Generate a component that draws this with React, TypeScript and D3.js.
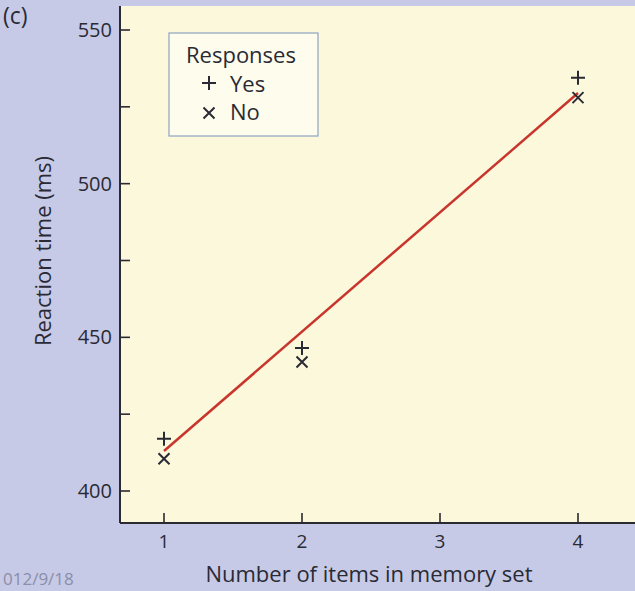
import * as d3 from "d3";
import type { ReactElement } from "react";

const W = 635;
const H = 591;

// memory set sizes and reaction times (ms)
const setSizes = [1, 2, 4];
const yesRT = [417, 446.5, 534.5];
const noRT = [410.5, 442, 528];
const fitLine = [
  { n: 1, rt: 413 },
  { n: 4, rt: 529.5 },
];
const xTicks = [1, 2, 3, 4];
const yMajor = [400, 450, 500, 550];
const yMinor = [425, 475, 525];
const legendItems = [
  { sym: "+", label: "Yes" },
  { sym: "x", label: "No" },
];

const FONT = "'Open Sans', 'Noto Sans', sans-serif";
const AXIS = "#2a2a30";
const INK = "#2a2a35";

const plusPath = (cx: number, cy: number, r: number): string =>
  `M${cx - r},${cy}H${cx + r}M${cx},${cy - r}V${cy + r}`;

const xPath = (cx: number, cy: number, r: number): string =>
  `M${cx - r},${cy - r}L${cx + r},${cy + r}M${cx + r},${cy - r}L${cx - r},${cy + r}`;

export default function App(): ReactElement {
  const left = 120;
  const top = 6;
  const bottom = 523;

  const x = d3.scaleLinear().domain([1, 4]).range([164, 578]);
  const y = d3.scaleLinear().domain([400, 550]).range([491, 30]);

  const line = d3
    .line<{ n: number; rt: number }>()
    .x((d) => x(d.n))
    .y((d) => y(d.rt));

  return (
    <svg
      width={W}
      height={H}
      viewBox={`0 0 ${W} ${H}`}
      style={{ position: "absolute", left: 0, top: 0, fontFamily: FONT }}
    >
      <rect x={0} y={0} width={W} height={H} fill="#c6cae6" />
      <rect x={left} y={top} width={W - left} height={bottom - top} fill="#fcf8dc" />

      <text x={3} y={24} fontSize={23} fill={INK}>(c)</text>
      <text x={3} y={585} fontSize={17} fill="#8b8ea8">012/9/18</text>

      {/* y axis */}
      <line x1={left} x2={left} y1={top} y2={bottom} stroke={AXIS} strokeWidth={2} />
      {yMajor.map((v) => (
        <g key={`ym-${v}`}>
          <line x1={left} x2={left + 10} y1={y(v)} y2={y(v)} stroke={AXIS} strokeWidth={1.6} />
          <text x={left - 8} y={y(v)} dy="0.35em" textAnchor="end" fontSize={20} fill={INK}>
            {v}
          </text>
        </g>
      ))}
      {yMinor.map((v) => (
        <line key={`yn-${v}`} x1={left} x2={left + 10} y1={y(v)} y2={y(v)} stroke={AXIS} strokeWidth={1.6} />
      ))}

      {/* x axis */}
      <line x1={left} x2={W} y1={bottom} y2={bottom} stroke={AXIS} strokeWidth={2} />
      {xTicks.map((v) => (
        <g key={`xt-${v}`}>
          <line x1={x(v)} x2={x(v)} y1={bottom} y2={bottom - 10} stroke={AXIS} strokeWidth={1.6} />
          <text x={x(v)} y={548} textAnchor="middle" fontSize={19} fill={INK}>
            {v}
          </text>
        </g>
      ))}

      <text x={369} y={582} textAnchor="middle" fontSize={22} fill={INK}>
        Number of items in memory set
      </text>
      <text
        transform={`translate(51, 251) rotate(-90)`}
        textAnchor="middle"
        fontSize={22}
        fill={INK}
      >
        Reaction time (ms)
      </text>

      {/* fit line */}
      <path d={line(fitLine) ?? ""} fill="none" stroke="#c8352c" strokeWidth={2.5} />

      {/* data markers */}
      {setSizes.map((n, i) => (
        <g key={`pt-${n}`} stroke={INK} strokeWidth={2} fill="none">
          <path d={plusPath(x(n), y(yesRT[i]), 7)} />
          <path d={xPath(x(n), y(noRT[i]), 5.5)} />
        </g>
      ))}

      {/* legend */}
      <rect x={169} y={33} width={149} height={103} fill="#fefcec" stroke="#8ea2c4" strokeWidth={1.2} />
      <text x={186} y={63} fontSize={22} fill={INK}>Responses</text>
      {legendItems.map((it, i) => {
        const cy = 84 + i * 28;
        return (
          <g key={it.label}>
            <path
              d={it.sym === "+" ? plusPath(209, cy - 1, 7) : xPath(209, cy + 1, 5.5)}
              stroke={INK}
              strokeWidth={2}
              fill="none"
            />
            <text x={230} y={cy} dy="0.35em" fontSize={22} fill={INK}>
              {it.label}
            </text>
          </g>
        );
      })}
    </svg>
  );
}
